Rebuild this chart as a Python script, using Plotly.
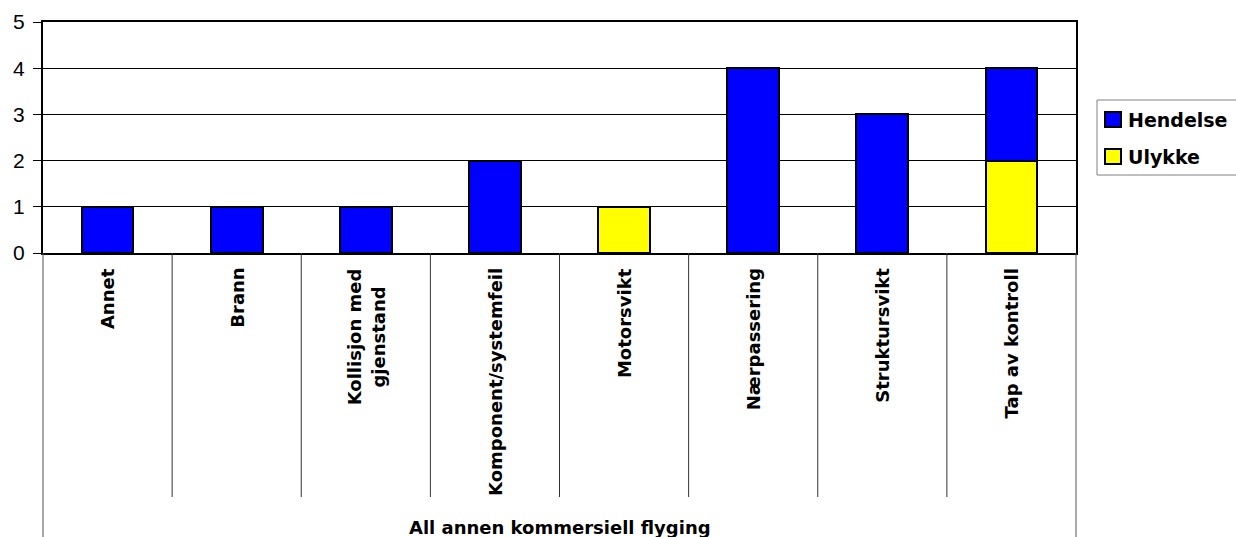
import plotly.graph_objects as go

# Categories and counts per event type
categories = [
    "Annet",
    "Brann",
    "Kollisjon med<br>gjenstand",
    "Komponent/systemfeil",
    "Motorsvikt",
    "Nærpassering",
    "Struktursvikt",
    "Tap av kontroll",
]
ulykke = [0, 0, 0, 0, 1, 0, 0, 2]
hendelse = [1, 1, 1, 2, 0, 4, 3, 2]
series_names = ["Hendelse", "Ulykke"]
series_colors = ["#0000FF", "#FFFF00"]
group_label = "All annen kommersiell flyging"
y_ticks = [0, 1, 2, 3, 4, 5]

W, H = 1236, 537
ML, MR, MT, MB = 43, 160, 22, 284
PW, PH = W - ML - MR, H - MT - MB

BOLD = "DejaVu Sans"
TICKF = "Liberation Sans"


def px_x(px):
    return (px - ML) / PW


def px_y(py):
    return (H - MB - py) / PH


fig = go.Figure()
fig.add_trace(go.Bar(
    x=list(range(len(categories))), y=ulykke, name=series_names[1],
    marker=dict(color=series_colors[1], line=dict(color="black", width=2)),
    width=0.4, showlegend=False,
))
fig.add_trace(go.Bar(
    x=list(range(len(categories))), y=hendelse, name=series_names[0],
    marker=dict(color=series_colors[0], line=dict(color="black", width=2)),
    width=0.4, showlegend=False,
))

shapes = []
n = len(categories)
# category separators below the axis
for i in range(1, n):
    shapes.append(dict(type="line", xref="x", yref="paper",
                       x0=i - 0.5, x1=i - 0.5, y0=0, y1=px_y(497),
                       line=dict(color="#333333", width=1)))
# outer lines of the category table
for xp in (0, 1):
    shapes.append(dict(type="line", xref="paper", yref="paper",
                       x0=xp, x1=xp, y0=0, y1=px_y(540),
                       line=dict(color="#555555", width=1)))

# legend box and swatches
shapes.append(dict(type="rect", xref="paper", yref="paper",
                   x0=px_x(1097), x1=px_x(1245), y0=px_y(100), y1=px_y(175),
                   line=dict(color="#808080", width=1), fillcolor="white"))
legend_rows = [119.5, 156.5]
annotations = []
for name, col, cy in zip(series_names, series_colors, legend_rows):
    shapes.append(dict(type="rect", xref="paper", yref="paper",
                       x0=px_x(1105), x1=px_x(1121), y0=px_y(cy - 7.5), y1=px_y(cy + 7.5),
                       line=dict(color="black", width=2), fillcolor=col))
    annotations.append(dict(text=f"<b>{name}</b>", xref="paper", yref="paper",
                            x=px_x(1126), y=px_y(cy), xanchor="left", yanchor="middle",
                            showarrow=False, font=dict(family=BOLD, size=19, color="black")))

# rotated category labels
for i, c in enumerate(categories):
    annotations.append(dict(text=f"<b>{c}</b>", xref="x", yref="paper",
                            x=i, y=px_y(266), xanchor="center", yanchor="top",
                            textangle=-90, align="center", showarrow=False,
                            font=dict(family=BOLD, size=18, color="black")))

annotations.append(dict(text=f"<b>{group_label}</b>", xref="paper", yref="paper",
                        x=0.5, y=px_y(527), xanchor="center", yanchor="middle",
                        showarrow=False, font=dict(family=BOLD, size=18, color="black")))

fig.update_layout(
    width=W, height=H,
    margin=dict(l=ML, r=MR, t=MT, b=MB, pad=0, autoexpand=False),
    paper_bgcolor="white", plot_bgcolor="white",
    barmode="stack",
    bargap=0.6,
    shapes=shapes,
    annotations=annotations,
    showlegend=False,
    xaxis=dict(range=[-0.5, n - 0.5], showticklabels=False, ticks="",
               showgrid=False, zeroline=False, automargin=False,
               showline=True, linecolor="black", linewidth=2, mirror=True),
    yaxis=dict(range=[0, 5], tickvals=y_ticks, ticks="outside", ticklen=8,
               tickcolor="black", tickwidth=1, automargin=False,
               tickfont=dict(family=TICKF, size=21, color="black"),
               ticklabelstandoff=4,
               showgrid=True, gridcolor="black", gridwidth=1,
               zeroline=False, showline=True, linecolor="black", linewidth=2,
               mirror=True),
)

fig.write_html("out.html")
